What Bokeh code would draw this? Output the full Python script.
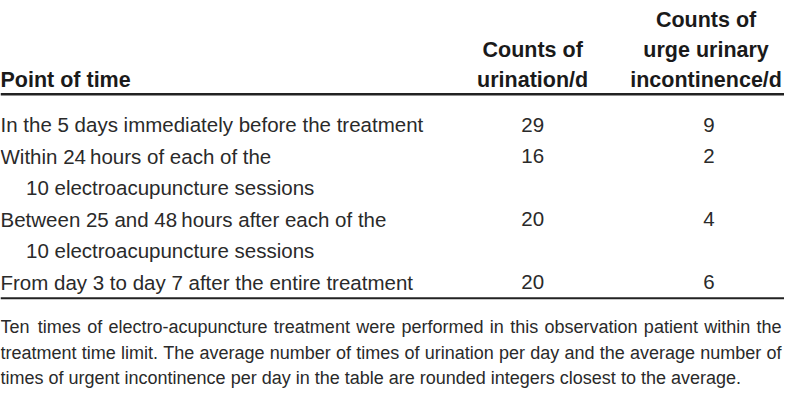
from bokeh.plotting import figure
from bokeh.models import ColumnDataSource, Range1d
from bokeh.core.properties import value
from bokeh.embed import file_html
from bokeh.resources import INLINE

# ---- data ----
row_labels = [
    ["In the 5 days immediately before the treatment"],
    ["Within 24\u2009hours of each of the", "10 electroacupuncture sessions"],
    ["Between 25 and 48\u2009hours after each of the", "10 electroacupuncture sessions"],
    ["From day 3 to day 7 after the entire treatment"],
]
urination = [29, 16, 20, 20]
urge_incontinence = [9, 2, 4, 6]
header_col1 = ["Point of time"]
header_col2 = ["Counts of", "urination/d"]
header_col3 = ["Counts of", "urge urinary", "incontinence/d"]
footnote = [
    "Ten times of electro-acupuncture treatment were performed in this observation patient within the",
    "treatment time limit. The average number of times of urination per day and the average number of",
    "times of urgent incontinence per day in the table are rounded integers closest to the average.",
]

# ---- layout constants (reference pixel space 800 x 408) ----
W, H = 800, 408
FIG_W, FIG_H = 784, 392
FONT = "Liberation Sans"
col1_x, col2_x, col3_x, col3_hx = 0, 543, 723, 720
indent = 26
first_base, line_step = 129.5, 32.8
head_base, head_step = 83, 31.5
head_rule_y, bottom_rule_y = 97.5, 310
foot_base, foot_step = 340, 26.5
foot_size = 18.0
foot_width = 797

# Arial / Liberation Sans advance widths (1/1000 em) for footnote justification
_w = {" ": 278, ".": 278, "-": 333, ",": 278, "T": 611}
_w.update({c: 556 for c in "abdeghnopqu0123456789"})
_w.update({"c": 500, "f": 278, "i": 222, "j": 222, "k": 500, "l": 222, "m": 833, "r": 333,
           "s": 500, "t": 278, "v": 500, "w": 722, "x": 500, "y": 500, "z": 500})


def text_w(s, size_px):
    return sum(_w.get(ch, 556) for ch in s) / 1000.0 * size_px * W / FIG_W


p = figure(width=FIG_W, height=FIG_H, output_backend="svg", toolbar_location=None,
           x_range=Range1d(0, W), y_range=Range1d(H, 0), min_border=0)
p.axis.visible = False
p.grid.visible = False
p.outline_line_color = None
p.background_fill_color = "white"

# header
hx, hy, ht, ha = [], [], [], []
for col_x, lines, al in ((col1_x, header_col1, "left"), (col2_x, header_col2, "center"),
                         (col3_hx, header_col3, "center")):
    n = len(lines)
    for i, t in enumerate(lines):
        hx.append(col_x)
        hy.append(head_base - (n - 1 - i) * head_step)
        ht.append(t)
        ha.append(al)
p.text(x="x", y="y", text="t", text_align="a", source=ColumnDataSource(dict(x=hx, y=hy, t=ht, a=ha)),
       text_font=value(FONT), text_font_style="bold", text_font_size="21.5px",
       text_color="#1a1a1a", text_baseline="alphabetic")

# rules
p.segment(x0=[0, 0], y0=[head_rule_y, bottom_rule_y], x1=[W, W], y1=[head_rule_y, bottom_rule_y],
          line_color="#222222", line_width=[2.4, 2.0])

# body
bx, by, bt = [], [], []
vy, v2, v3 = [], [], []
li = 0
for r, lines in enumerate(row_labels):
    vy.append(first_base + li * line_step)
    v2.append(str(urination[r]))
    v3.append(str(urge_incontinence[r]))
    for j, t in enumerate(lines):
        bx.append(col1_x + (indent if j > 0 else 0))
        by.append(first_base + li * line_step)
        bt.append(t)
        li += 1
p.text(x="x", y="y", text="t", source=ColumnDataSource(dict(x=bx, y=by, t=bt)),
       text_font=value(FONT), text_font_size="20.5px", text_color="#2a2a2a",
       text_baseline="alphabetic", text_align="left")
p.text(x=[col2_x] * len(v2) + [col3_x] * len(v3), y=vy + vy, text=v2 + v3,
       text_font=value(FONT), text_font_size="20.5px", text_color="#2a2a2a",
       text_baseline="alphabetic", text_align="center")

# footnote (justified except the last line)
fx, fy, ft = [], [], []
for i, line in enumerate(footnote):
    y = foot_base + i * foot_step
    if i == len(footnote) - 1:
        fx.append(0); fy.append(y); ft.append(line)
        continue
    words = line.split(" ")
    widths = [text_w(wd, foot_size) for wd in words]
    gap = (foot_width - sum(widths)) / (len(words) - 1)
    x = 0.0
    for wd, wdw in zip(words, widths):
        fx.append(x); fy.append(y); ft.append(wd)
        x += wdw + gap
p.text(x="x", y="y", text="t", source=ColumnDataSource(dict(x=fx, y=fy, t=ft)),
       text_font=value(FONT), text_font_size=f"{foot_size}px", text_color="#2a2a2a",
       text_baseline="alphabetic", text_align="left")

open("out.html", "w").write(file_html(p, INLINE))
